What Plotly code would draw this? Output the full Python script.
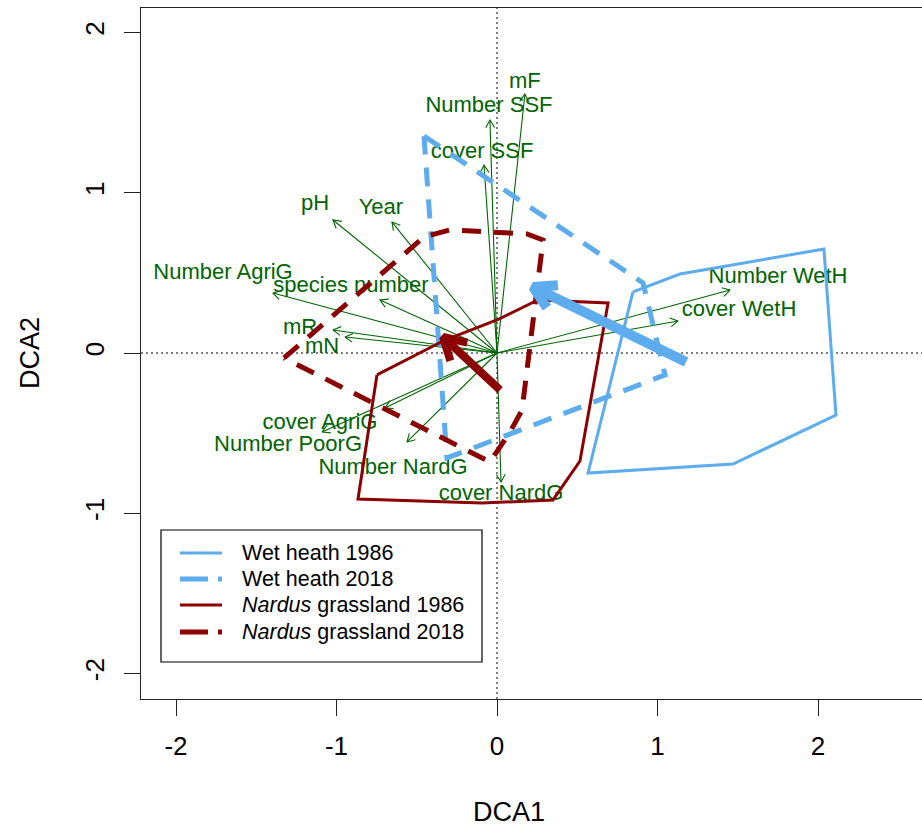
import numpy as np
import plotly.graph_objects as go

# ---------------- data (DCA scores) ----------------
env_names = ["mF", "Number SSF", "cover SSF", "pH", "Year", "Number AgriG",
             "species number", "mR", "mN", "cover AgriG", "Number PoorG",
             "Number NardG", "cover NardG", "Number WetH", "cover WetH"]
env_x = [0.174, -0.044, -0.081, -1.022, -0.654, -1.396, -0.729, -1.022, -0.947,
         -0.698, -1.090, -0.561, 0.025, 1.452, 1.128]
env_y = [1.616, 1.454, 1.173, 0.830, 0.817, 0.374, 0.331, 0.144, 0.100,
         -0.343, -0.493, -0.555, -0.805, 0.393, 0.200]
lab_x = [0.174, -0.050, -0.093, -1.134, -0.723, -1.707, -0.910, -1.227, -1.090,
         -1.103, -1.302, -0.648, 0.025, 1.751, 1.508]
lab_y = [1.691, 1.541, 1.254, 0.924, 0.899, 0.499, 0.418, 0.150, 0.037,
         -0.437, -0.580, -0.718, -0.880, 0.474, 0.268]

wet1986_x = [0.847, 1.140, 2.037, 2.112, 1.470, 0.567]
wet1986_y = [0.381, 0.493, 0.649, -0.387, -0.693, -0.749]
wet2018_x = [-0.455, 0.910, 1.047, -0.312]
wet2018_y = [1.354, 0.437, -0.137, -0.655]
nard1986_x = [-0.748, -0.324, 0.0, 0.255, 0.692, 0.517, 0.349, -0.093, -0.866]
nard1986_y = [-0.137, 0.081, 0.206, 0.331, 0.312, -0.674, -0.917, -0.936, -0.911]
nard2018_x = [-1.327, -0.455, -0.293, 0.187, 0.287, 0.156, 0.081, -0.044]
nard2018_y = [-0.031, 0.724, 0.768, 0.743, 0.705, -0.356, -0.493, -0.680]

# centroid shifts 1986 -> 2018 (tail, tip)
wet_shift_x = [1.178, 0.225]
wet_shift_y = [-0.056, 0.412]
nard_shift_x = [0.019, -0.336]
nard_shift_y = [-0.231, 0.100]

legend_labels = ["Wet heath 1986", "Wet heath 2018",
                 "<i>Nardus</i> grassland 1986", "<i>Nardus</i> grassland 2018"]

x_ticks = [-2, -1, 0, 1, 2]
y_ticks = [-2, -1, 0, 1, 2]

# ---------------- styles ----------------
BLUE = "#5CACEE"
RED = "#8B0000"
GREEN = "#006400"
FONT = "Liberation Sans, Arial, Helvetica, sans-serif"


def head(fx, fy, tx, ty, L, ang=np.deg2rad(30)):
    dx, dy = tx - fx, ty - fy
    n = np.hypot(dx, dy)
    bx, by = -dx / n, -dy / n
    c, s = np.cos(ang), np.sin(ang)
    a1 = (tx + L * (bx * c - by * s), ty + L * (bx * s + by * c))
    a2 = (tx + L * (bx * c + by * s), ty + L * (-bx * s + by * c))
    return [a1[0], tx, a2[0]], [a1[1], ty, a2[1]]


def closed(xs, ys):
    return list(xs) + [xs[0]], list(ys) + [ys[0]]


fig = go.Figure()

# green environmental arrows
gx, gy = [], []
for tx, ty in zip(env_x, env_y):
    gx += [0, tx, None]
    gy += [0, ty, None]
    hx, hy = head(0, 0, tx, ty, 0.055)
    gx += hx + [None]
    gy += hy + [None]
fig.add_trace(go.Scatter(x=gx, y=gy, mode="lines",
                         line=dict(color=GREEN, width=1.1),
                         hoverinfo="skip", showlegend=False))
fig.add_trace(go.Scatter(x=lab_x, y=lab_y, mode="text", text=env_names,
                         textposition="middle center",
                         textfont=dict(family=FONT, size=22, color=GREEN),
                         hoverinfo="skip", showlegend=False))

# hulls
px_, py_ = closed(wet1986_x, wet1986_y)
fig.add_trace(go.Scatter(x=px_, y=py_, mode="lines", name="Wet heath 1986",
                         line=dict(color=BLUE, width=3), showlegend=False))
px_, py_ = closed(wet2018_x, wet2018_y)
fig.add_trace(go.Scatter(x=px_, y=py_, mode="lines", name="Wet heath 2018",
                         line=dict(color=BLUE, width=5, dash="19px,13px"),
                         showlegend=False))
px_, py_ = closed(nard1986_x, nard1986_y)
fig.add_trace(go.Scatter(x=px_, y=py_, mode="lines", name="Nardus grassland 1986",
                         line=dict(color=RED, width=3), showlegend=False))
px_, py_ = closed(nard2018_x, nard2018_y)
fig.add_trace(go.Scatter(x=px_, y=py_, mode="lines", name="Nardus grassland 2018",
                         line=dict(color=RED, width=5, dash="19px,13px"),
                         showlegend=False))

# shift arrows
for sx, sy, col, w in [(wet_shift_x, wet_shift_y, BLUE, 10),
                       (nard_shift_x, nard_shift_y, RED, 8)]:
    hx, hy = head(sx[0], sy[0], sx[1], sy[1], 0.155)
    fig.add_trace(go.Scatter(x=[sx[0], sx[1], None] + hx,
                             y=[sy[0], sy[1], None] + hy,
                             mode="lines", line=dict(color=col, width=w),
                             hoverinfo="skip", showlegend=False))

# zero lines
fig.add_shape(type="line", xref="x", yref="paper", x0=0, x1=0, y0=0, y1=1,
              line=dict(color="black", width=1, dash="2px,3px"), layer="below")
fig.add_shape(type="line", xref="paper", yref="y", x0=0, x1=1, y0=0, y1=0,
              line=dict(color="black", width=1, dash="2px,3px"), layer="below")

# legend (drawn manually to match the R legend box)
W, H, L_, T_, B_ = 922, 828, 141, 8, 129
pw, ph = W - L_, H - T_ - B_


def pxx(p):
    return (p - L_) / pw


def pyy(p):
    return (H - B_ - p) / ph


fig.add_shape(type="rect", xref="paper", yref="paper",
              x0=pxx(161), x1=pxx(482), y0=pyy(662), y1=pyy(530),
              line=dict(color="black", width=1.2), fillcolor="white")
rows = [553, 579, 605, 632]
styles = [(BLUE, 3, "solid"), (BLUE, 5, "28px,10px"),
          (RED, 3, "solid"), (RED, 5, "28px,10px")]
for r, (col, w, d), lab in zip(rows, styles, legend_labels):
    fig.add_shape(type="line", xref="paper", yref="paper",
                  x0=pxx(180), x1=pxx(222), y0=pyy(r), y1=pyy(r),
                  line=dict(color=col, width=w, dash=d))
    fig.add_annotation(xref="paper", yref="paper", x=pxx(240), y=pyy(r),
                       text=lab, showarrow=False, xanchor="left",
                       yanchor="middle",
                       font=dict(family=FONT, size=21.5, color="black"))

# axis titles
fig.add_annotation(xref="paper", yref="paper", x=pxx(509), y=pyy(812),
                   text="DCA1", showarrow=False, xanchor="center",
                   yanchor="middle", font=dict(family=FONT, size=27, color="black"))
fig.add_annotation(xref="paper", yref="paper", x=pxx(30), y=pyy(353),
                   text="DCA2", showarrow=False, textangle=-90,
                   xanchor="center", yanchor="middle",
                   font=dict(family=FONT, size=27, color="black"))

x0 = (L_ - 497) / 160.5
x1 = (W - 497) / 160.5
y1 = (353 - T_) / 160.25
y0 = (353 - (H - B_)) / 160.25

fig.update_layout(
    width=W, height=H,
    margin=dict(l=L_, r=0, t=T_, b=B_, pad=0),
    paper_bgcolor="white", plot_bgcolor="white",
    showlegend=False,
    font=dict(family=FONT, color="black"),
    xaxis=dict(range=[x0, x1], tickvals=x_ticks, ticktext=[str(v) for v in x_ticks],
               showgrid=False, zeroline=False, showline=True, mirror=True,
               linecolor="#222", linewidth=1.2, ticks="outside", ticklen=16,
               tickcolor="#222", tickwidth=1.2, ticklabelstandoff=8,
               tickfont=dict(family=FONT, size=26, color="black")),
    yaxis=dict(range=[y0, y1], tickvals=y_ticks, ticktext=[str(v) for v in y_ticks],
               showgrid=False, zeroline=False, showline=True, mirror=False,
               linecolor="#222", linewidth=1.2, ticks="outside", ticklen=16,
               tickcolor="#222", tickwidth=1.2, tickangle=-90, ticklabelstandoff=10,
               tickfont=dict(family=FONT, size=26, color="black")),
)

fig.write_html("out.html")
